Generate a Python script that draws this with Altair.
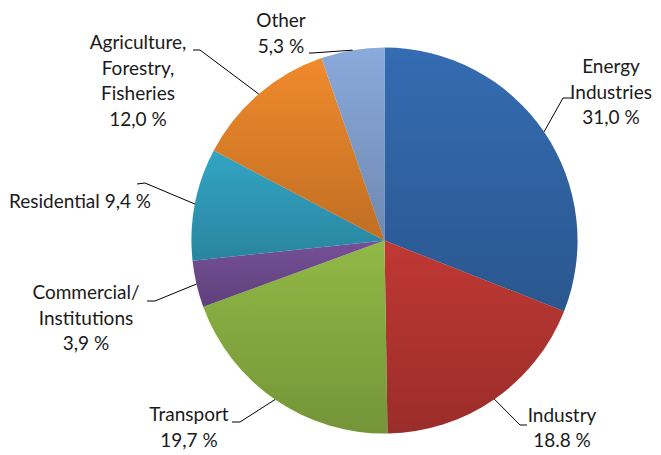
import altair as alt
import pandas as pd

# ---- data ----
categories = [
    "Energy Industries", "Industry", "Transport", "Commercial/Institutions",
    "Residential", "Agriculture, Forestry, Fisheries", "Other",
]
values = [31.0, 18.8, 19.7, 3.9, 9.4, 12.0, 5.3]
label_lines = [
    ["Energy", "Industries", "31,0 %"],
    ["Industry", "18.8 %"],
    ["Transport", "19,7 %"],
    ["Commercial/", "Institutions", "3,9 %"],
    ["Residential 9,4 %"],
    ["Agriculture,", "Forestry,", "Fisheries", "12,0 %"],
    ["Other", "5,3 %"],
]
colors = ["#346CB2", "#C03834", "#91B946", "#765098", "#33A5C5", "#F08A2C", "#8AAADC"]

# ---- layout (pixels relative to the pie centre) ----
W, H = 645, 442
CX, CY, R = 376.5, 232.5, 193
LINE_H = 25.5
# elbow of leader (dx, dy), end x of the short horizontal tick, label centre x, first line y
elbow = [(178.5, -142.5), (135.5, 184.5), (-144.5, 181.5), (-229.5, 60.5),
         (-239.5, -57.5), (-184.5, -190.5), (-72.5, -187.5)]
tick_end_x = [187.5, 142.5, -152.5, -237.5, -247.5, -191.5, -75.5]
tick_end_dy = [0, 0, 0, 0, 1, 0, 0]
label_pos = [(226.5, -173.5), (177.5, 175.0), (-195.5, 174.5), (-298.5, 52.5),
             (-304.5, -38.5), (-246.5, -197.5), (-103.5, -219.5)]

order = list(range(len(categories)))
df = pd.DataFrame({"category": categories, "value": values, "order": order})

lead = pd.DataFrame({
    "category": categories, "value": values, "order": order,
    "elx": [CX + e[0] for e in elbow], "ely": [CY + e[1] for e in elbow],
    "endx": [CX + t for t in tick_end_x],
    "endy": [CY + e[1] + d for e, d in zip(elbow, tick_end_dy)],
})

rows = []
for cat, lines, (lx, ly) in zip(categories, label_lines, label_pos):
    for i, t in enumerate(lines):
        rows.append({"category": cat, "text": t, "tx": CX + lx, "ty": CY + ly + i * LINE_H})
txt = pd.DataFrame(rows)

base = alt.Chart(df).encode(
    theta=alt.Theta("value:Q", stack=True),
    order=alt.Order("order:Q"),
)
pie = base.mark_arc(radius=R, strokeWidth=0).encode(
    x=alt.value(CX), y=alt.value(CY),
    color=alt.Color("category:N", scale=alt.Scale(domain=categories, range=colors), legend=None),
)
shade = base.mark_arc(radius=R, strokeWidth=0).encode(
    x=alt.value(CX), y=alt.value(CY),
    color=alt.value({
        "gradient": "linear", "x1": 0, "y1": 0, "x2": 0, "y2": 1,
        "stops": [
            {"offset": 0, "color": "rgba(0,0,0,0)"},
            {"offset": 1, "color": "rgba(0,0,0,0.2)"},
        ],
    }),
)

leadbase = alt.Chart(lead).transform_joinaggregate(
    total="sum(value)"
).transform_window(
    cum="sum(value)", sort=[alt.SortField("order")], frame=[None, 0]
).transform_calculate(
    mid="(datum.cum - datum.value/2) / datum.total * 2 * PI",
    sx=f"{CX} + {R} * sin(datum.mid)",
    sy=f"{CY} - {R} * cos(datum.mid)",
)
seg1 = leadbase.mark_rule(color="#000000", strokeWidth=1).encode(
    x=alt.X("sx:Q", scale=None), y=alt.Y("sy:Q", scale=None),
    x2="elx:Q", y2="ely:Q",
)
seg2 = leadbase.mark_rule(color="#000000", strokeWidth=1).encode(
    x=alt.X("elx:Q", scale=None), y=alt.Y("ely:Q", scale=None),
    x2="endx:Q", y2="endy:Q",
)

labels = alt.Chart(txt).mark_text(
    font="Lato", fontSize=19, color="#1a1a1a", align="center", baseline="middle"
).encode(
    x=alt.X("tx:Q", scale=None), y=alt.Y("ty:Q", scale=None), text="text:N",
)

chart = alt.layer(pie, shade, seg1, seg2, labels).properties(
    width=W, height=H, padding=0, autosize=alt.AutoSizeParams(type="none"),
).configure_view(stroke=None)

chart.save("out.html", embed_options={"renderer": "svg", "actions": False})
